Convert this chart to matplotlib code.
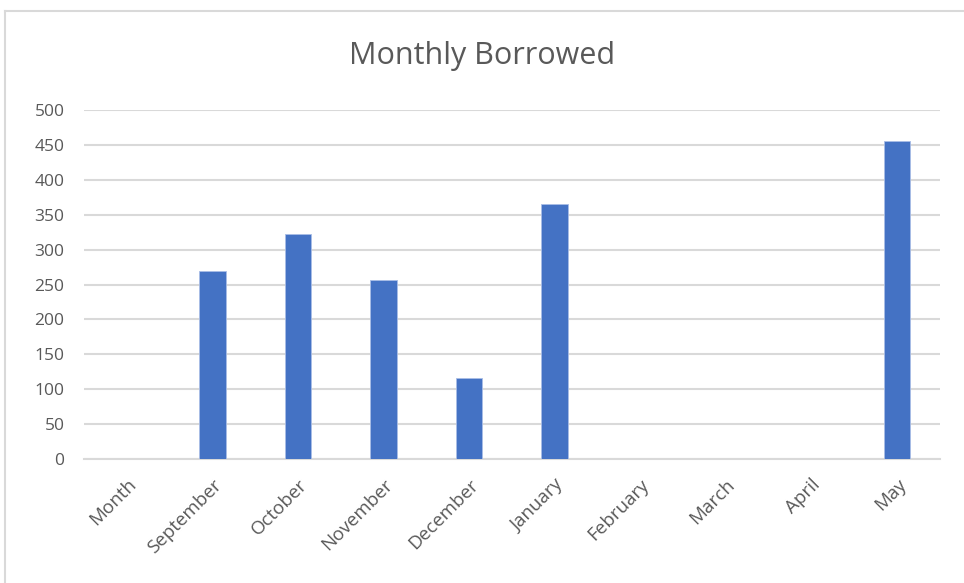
import matplotlib.pyplot as plt
from matplotlib.lines import Line2D

months = ["Month", "September", "October", "November", "December",
          "January", "February", "March", "April", "May"]
borrowed = [0, 270, 322, 257, 116, 366, 0, 0, 0, 456]
yticks = [0, 50, 100, 150, 200, 250, 300, 350, 400, 450, 500]

plt.rcParams['font.family'] = ['Open Sans', 'DejaVu Sans']

fig = plt.figure(figsize=(9.64, 5.83), dpi=100)
ax = fig.add_axes([0.087, 0.2127, 0.888, 0.5986])

x = range(len(months))
ax.bar(x, borrowed, width=0.31, color='#4472c4', edgecolor='#a9bde6', linewidth=0.6, zorder=3)

ax.set_xlim(-0.5, len(months) - 0.5)
ax.set_ylim(0, 500)
ax.set_yticks(yticks)
ax.set_xticks(list(x))
ax.set_xticklabels(months, rotation=45, ha='right', rotation_mode='anchor')

ax.grid(axis='y', color='#d9d9d9', linewidth=1.5, zorder=0)
for s in ['top', 'right', 'left']:
    ax.spines[s].set_visible(False)
ax.spines['bottom'].set_color('#d9d9d9')
ax.spines['bottom'].set_linewidth(1.5)
ax.tick_params(axis='both', length=0, colors='#595959')
ax.tick_params(axis='y', pad=14, labelsize=12.5)
ax.tick_params(axis='x', pad=12, labelsize=13.5)

fig.text(0.5, 0.904, "Monthly Borrowed", ha='center', va='center', fontsize=22, color='#595959')

# chart area border (top and left edges visible)
fig.add_artist(Line2D([0.005, 0.005], [0, 0.981], transform=fig.transFigure, color='#d9d9d9', linewidth=1.5))
fig.add_artist(Line2D([0.005, 1.0], [0.981, 0.981], transform=fig.transFigure, color='#d9d9d9', linewidth=1.5))

fig.savefig("out.png", dpi=100)
